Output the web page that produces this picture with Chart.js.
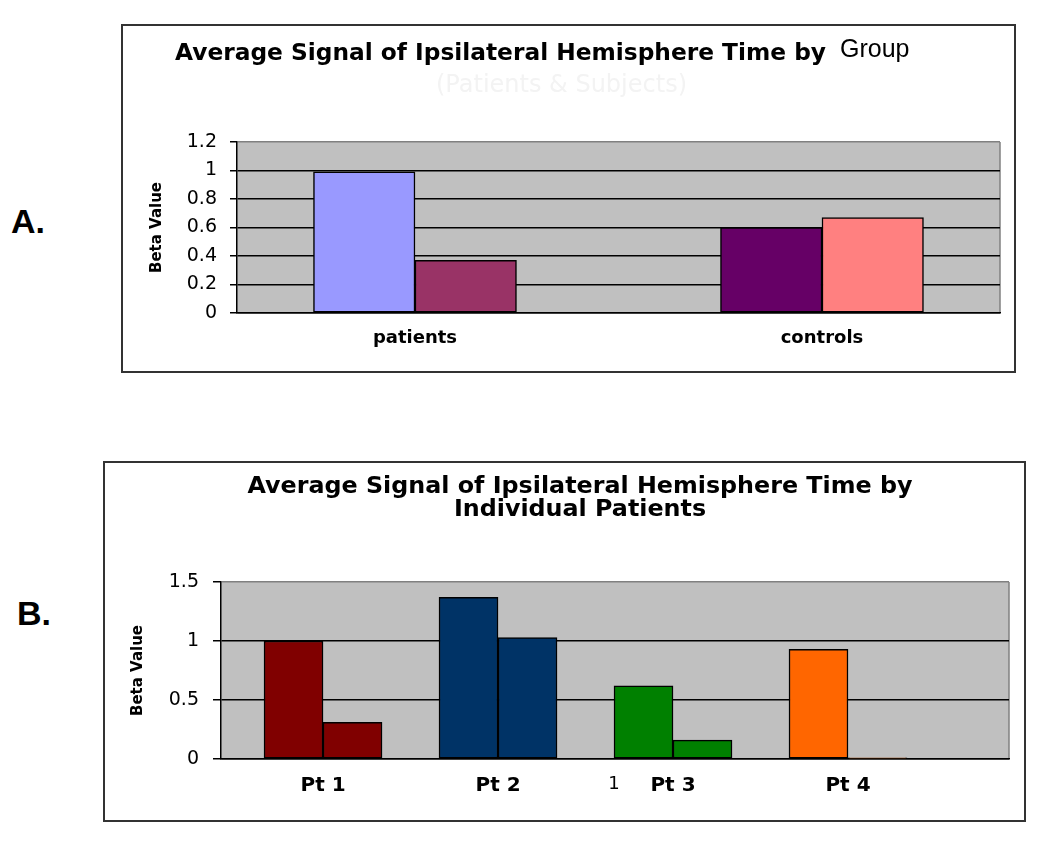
<!DOCTYPE html>
<html>
<head>
<meta charset="utf-8">
<title>Average Signal of Ipsilateral Hemisphere Time</title>
<script src="https://cdn.jsdelivr.net/npm/chart.js@4.4.1/dist/chart.umd.min.js"></script>
<style>
  body { margin: 0; background: #fff; width: 1050px; height: 846px; position: relative; overflow: hidden; }
  .box { position: absolute; border: 2px solid #333; box-sizing: border-box; background: #fff; }
  #boxA { left: 121px; top: 24px; width: 895px; height: 349px; }
  #boxB { left: 103px; top: 461px; width: 923px; height: 361px; }
  .txt { position: absolute; white-space: nowrap; line-height: 1; color: #000; }
  .bold { font-family: "DejaVu Sans", sans-serif; font-weight: bold; }
  .panel { font-family: "Liberation Sans", Arial, sans-serif; font-weight: bold; font-size: 34px; }
</style>
</head>
<body>

<div class="box" id="boxA"><canvas id="chartA"></canvas></div>
<div class="box" id="boxB"><canvas id="chartB"></canvas></div>

<div class="txt panel" style="left:11px; top:204px;">A.</div>
<div class="txt panel" style="left:17px; top:596px;">B.</div>

<!-- panel A title: the "Group" word was pasted in another font -->
<div class="txt bold" style="left:175px; top:40px; font-size:23.3px;">Average Signal of Ipsilateral Hemisphere Time by</div>
<div class="txt" style="left:840px; top:36px; font-size:25px; font-family:'Liberation Sans', Arial, sans-serif;">Group</div>
<div class="txt" style="left:436px; top:72px; font-size:24px; font-family:'DejaVu Sans', sans-serif; color:#f3f3f3;">(Patients &amp; Subjects)</div>

<div class="txt bold" style="left:130px; top:474px; width:900px; text-align:center; font-size:23.8px; line-height:23px;">Average Signal of Ipsilateral Hemisphere Time by<br>Individual Patients</div>

<script>
// ---- panel A: group averages ----
var groupLabels = ['patients', 'controls'];
var groupFirst = [0.99, 0.60];
var groupSecond = [0.37, 0.67];
var groupTicks = [0, 0.2, 0.4, 0.6, 0.8, 1, 1.2];

// ---- panel B: individual patients ----
var patientLabels = ['Pt 1', 'Pt 2', 'Pt 3', 'Pt 4'];
var patientFirst = [1.00, 1.37, 0.62, 0.93];
var patientSecond = [0.31, 1.03, 0.16, 0.01];
var patientTicks = [0, 0.5, 1, 1.5];
// a stray "1" label sits left of Pt 3 in the original
var strayLabel = '1';
var strayAt = 2.663;

// colours (old Excel palette)
var groupColorsFirst = ['#9999ff', '#660066'];
var groupColorsSecond = ['#993366', '#ff8080'];
var patientColors = ['#800000', '#003366', '#008000', '#ff6600'];

var fontFamily = 'DejaVu Sans';

// grey plot area + grey right edge, like the excel chart
var plotFrame = {
    id: 'plotFrame',
    beforeDraw: function (chart) {
        var ctx = chart.ctx, a = chart.chartArea;
        ctx.save();
        ctx.fillStyle = '#c0c0c0';
        ctx.fillRect(a.left, a.top, a.right - a.left, a.bottom - a.top);
        ctx.strokeStyle = '#808080';
        ctx.lineWidth = 1.5;
        ctx.beginPath();
        ctx.moveTo(a.right, a.top);
        ctx.lineTo(a.right, a.bottom);
        ctx.stroke();
        ctx.restore();
    }
};

function toPoints(values) {
    return values.map(function (v, i) { return { x: i + 1, y: v }; });
}

function barChart(canvasID, o) {
    var top = o.yTicks[o.yTicks.length - 1];
    return new Chart(document.getElementById(canvasID), {
        type: 'bar',
        data: {
            datasets: [{
                data: toPoints(o.first),
                backgroundColor: o.colorsFirst,
                borderColor: '#000',
                borderWidth: 1.5,
                borderSkipped: false,
                barThickness: o.barWidth
            }, {
                data: toPoints(o.second),
                backgroundColor: o.colorsSecond,
                borderColor: '#000',
                borderWidth: 1.5,
                borderSkipped: false,
                barThickness: o.barWidth
            }]
        },
        options: {
            responsive: true,
            maintainAspectRatio: false,
            animation: false,
            events: [],
            layout: { padding: o.padding },
            plugins: { legend: { display: false }, tooltip: { enabled: false } },
            scales: {
                x: {
                    type: 'linear',
                    min: o.xMin,
                    max: o.xMax,
                    offset: false,
                    afterBuildTicks: function (axis) {
                        axis.ticks = o.xTicks.map(function (t) { return { value: t.value }; });
                    },
                    afterFit: function (axis) { axis.height = o.xHeight; },
                    grid: { display: false, drawTicks: false, offset: false },
                    border: { color: '#000', width: 1.5 },
                    ticks: {
                        autoSkip: false,
                        maxRotation: 0,
                        minRotation: 0,
                        color: '#000',
                        padding: o.xPad,
                        callback: function (v, i) { return o.xTicks[i].label; },
                        font: function (ctx) {
                            var t = o.xTicks[ctx.index];
                            if (t && t.plain) return { family: fontFamily, size: 18 };
                            return { family: fontFamily, size: o.xFont, weight: 'bold' };
                        }
                    }
                },
                y: {
                    min: 0,
                    max: top,
                    afterBuildTicks: function (axis) {
                        axis.ticks = o.yTicks.map(function (v) { return { value: v }; });
                    },
                    afterFit: function (axis) { axis.width = o.yWidth; },
                    grid: {
                        color: function (ctx) {
                            return ctx.tick && ctx.tick.value === top ? '#808080' : '#000';
                        },
                        lineWidth: 1.5,
                        tickColor: '#000',
                        tickLength: o.tickLen
                    },
                    border: { color: '#000', width: 1.5 },
                    ticks: {
                        color: '#000',
                        padding: o.yPad,
                        font: { family: fontFamily, size: 19 },
                        callback: function (v) { return String(v); }
                    },
                    title: {
                        display: true,
                        text: 'Beta Value',
                        color: '#000',
                        font: { family: fontFamily, size: 15, weight: 'bold' },
                        padding: { top: o.titlePad, bottom: 0 }
                    }
                }
            }
        },
        plugins: [plotFrame]
    });
}

var groupXTicks = groupLabels.map(function (l, i) { return { value: i + 1, label: l }; });
var patientXTicks = patientLabels.map(function (l, i) { return { value: i + 1, label: l }; });
patientXTicks.splice(2, 0, { value: strayAt, label: strayLabel, plain: true });

var chartA = barChart('chartA', {
    first: groupFirst,
    second: groupSecond,
    colorsFirst: groupColorsFirst,
    colorsSecond: groupColorsSecond,
    yTicks: groupTicks,
    xTicks: groupXTicks,
    xMin: 0.5627,
    xMax: 2.4374,
    barWidth: 101.5,
    padding: { top: 116, right: 14, left: 0, bottom: 0 },
    yWidth: 114,
    xHeight: 58,
    xPad: 15,
    xFont: 18,
    yPad: 13,
    tickLen: 7,
    titlePad: 25
});

var chartB = barChart('chartB', {
    first: patientFirst,
    second: patientSecond,
    colorsFirst: patientColors,
    colorsSecond: patientColors,
    yTicks: patientTicks,
    xTicks: patientXTicks,
    xMin: 0.417,
    xMax: 4.920,
    barWidth: 59,
    padding: { top: 119, right: 15, left: 0, bottom: 0 },
    yWidth: 116,
    xHeight: 61,
    xPad: 15,
    xFont: 20,
    yPad: 14,
    tickLen: 8,
    titlePad: 24
});
</script>
</body>
</html>
